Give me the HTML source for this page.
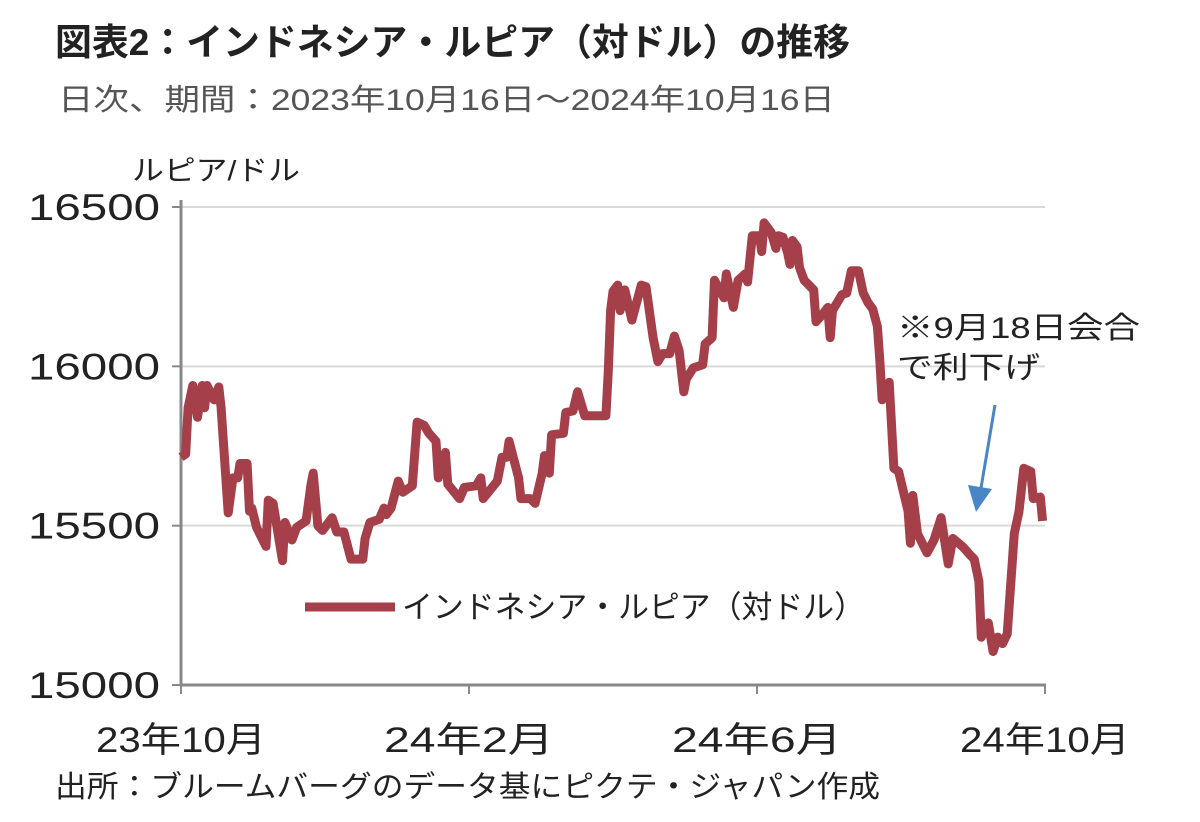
<!DOCTYPE html>
<html><head><meta charset="utf-8"><style>
body{margin:0;background:#fff;width:1200px;height:817px;overflow:hidden;font-family:"Liberation Sans","Noto Sans CJK JP",sans-serif}
</style></head><body>
<svg id="c" width="1200" height="817" xmlns="http://www.w3.org/2000/svg" style="font-family:'Liberation Sans','Noto Sans CJK JP',sans-serif">
<text x="55" y="55" font-size="37" font-weight="bold" fill="#222" textLength="795" lengthAdjust="spacingAndGlyphs">図表2：インドネシア・ルピア（対ドル）の推移</text>
<text x="58" y="110" font-size="30" fill="#555" textLength="777" lengthAdjust="spacingAndGlyphs">日次、期間：2023年10月16日～2024年10月16日</text>
<text x="132" y="180" font-size="28" fill="#222" textLength="168" lengthAdjust="spacingAndGlyphs">ルピア/ドル</text>
<g id="grid"></g><g id="axes"></g>
<path id="line" fill="none" stroke="#a5404a" stroke-width="9" stroke-linejoin="round"/>
<line x1="305" y1="607" x2="395" y2="607" stroke="#a5404a" stroke-width="9"/>
<text x="402" y="618" font-size="31" fill="#222" textLength="463" lengthAdjust="spacingAndGlyphs">インドネシア・ルピア（対ドル）</text>
<text x="897" y="338" font-size="30" fill="#222" textLength="243" lengthAdjust="spacingAndGlyphs">※9月18日会合</text>
<text x="897" y="378" font-size="30" fill="#222" textLength="143" lengthAdjust="spacingAndGlyphs">で利下げ</text>
<line x1="995" y1="405" x2="981" y2="488" stroke="#4a86c5" stroke-width="3"/>
<polygon points="968,485 992,489 976,512" fill="#4a86c5"/>
<text x="55" y="797" font-size="30" fill="#222" textLength="825" lengthAdjust="spacingAndGlyphs">出所：ブルームバーグのデータ基にピクテ・ジャパン作成</text>
</svg>
<script>
const days=[0,2,3,5,7,9,10,11,14,16,17,20,22,24,25,28,29,30,32,36,37,39,43,44,47,49,53,55,56,58,60,64,66,69,72,77,78,80,84,86,87,89,92,94,98,100,103,105,108,109,112,113,118,120,125,127,128,134,136,138,139,143,144,148,150,153,154,156,157,162,163,166,168,171,180,181,182,183,185,186,188,191,195,197,200,202,204,207,209,211,213,214,217,221,222,225,226,230,231,234,236,239,240,242,245,246,247,250,252,253,255,257,258,259,261,262,264,268,269,272,274,275,276,280,282,284,287,289,291,293,295,296,297,300,302,304,308,309,310,312,316,319,322,325,327,331,334,336,338,339,342,344,346,348,350,353,355,357,360,361,364,365];
const values=[15715,15725,15870,15940,15840,15940,15870,15940,15895,15935,15870,15540,15650,15650,15695,15695,15545,15555,15495,15435,15580,15570,15390,15510,15455,15495,15515,15625,15665,15500,15485,15525,15480,15480,15395,15395,15460,15510,15520,15555,15535,15555,15640,15605,15625,15825,15815,15790,15765,15650,15730,15630,15585,15620,15625,15650,15585,15640,15715,15715,15765,15650,15585,15585,15570,15665,15720,15665,15785,15790,15855,15860,15920,15845,15845,15985,16175,16235,16255,16175,16240,16145,16255,16250,16090,16015,16040,16040,16095,16050,15920,15960,15995,16005,16070,16090,16270,16215,16290,16185,16270,16290,16265,16410,16410,16360,16450,16420,16370,16410,16405,16355,16320,16395,16375,16310,16270,16240,16140,16165,16185,16090,16175,16225,16230,16300,16300,16230,16200,16180,16125,16020,15895,15950,15680,15670,15545,15445,15595,15475,15415,15455,15525,15380,15460,15435,15410,15395,15325,15150,15195,15105,15150,15130,15160,15475,15545,15680,15670,15585,15590,15515];
const yTicks=[15000,15500,16000,16500];
const xTickDays=[0,122,244,366];
const xTickLabels=["23年10月","24年2月","24年6月","24年10月"];
const X=d=>181+d*(1045-181)/366;
const Y=v=>685-(v-15000)*(685-207)/1500;
const ns="http://www.w3.org/2000/svg";
const grid=document.getElementById('grid'),axes=document.getElementById('axes');
function mk(tag,attrs,parent){const e=document.createElementNS(ns,tag);for(const k in attrs)e.setAttribute(k,attrs[k]);parent.appendChild(e);return e;}
yTicks.forEach(v=>{
  if(v>15000){const g=mk('line',{x1:181,x2:1045,y1:Y(v),y2:Y(v),stroke:'#d9d9d9','stroke-width':2},grid);
  
  }
  const t=mk('line',{x1:172,x2:181,y1:Y(v),y2:Y(v),stroke:'#888','stroke-width':2},axes);
  
  
  const l=mk('text',{x:28,y:Y(v)+13,'font-size':37,fill:'#222',textLength:132,lengthAdjust:'spacingAndGlyphs'},axes);
  l.textContent=v;
  
  
});
const ya=mk('line',{x1:181,x2:181,y1:200,y2:686,stroke:'#888','stroke-width':3},axes);


const xa=mk('line',{x1:181,x2:1046,y1:685,y2:685,stroke:'#888','stroke-width':3},axes);


xTickDays.forEach((d,i)=>{
  const t=mk('line',{x1:X(d),x2:X(d),y1:685,y2:694,stroke:'#888','stroke-width':2},axes);
  
  
  const w=xTickLabels[i].length>4?170:150;
  const l=mk('text',{x:X(d)-w/2,y:752,'font-size':35,fill:'#222',textLength:w,lengthAdjust:'spacingAndGlyphs'},axes);
  l.textContent=xTickLabels[i];
  
  
});
document.getElementById('line').setAttribute('d',days.map((d,i)=>(i?'L':'M')+X(d).toFixed(1)+','+Y(values[i]).toFixed(1)).join(''));
</script>
</body></html>
